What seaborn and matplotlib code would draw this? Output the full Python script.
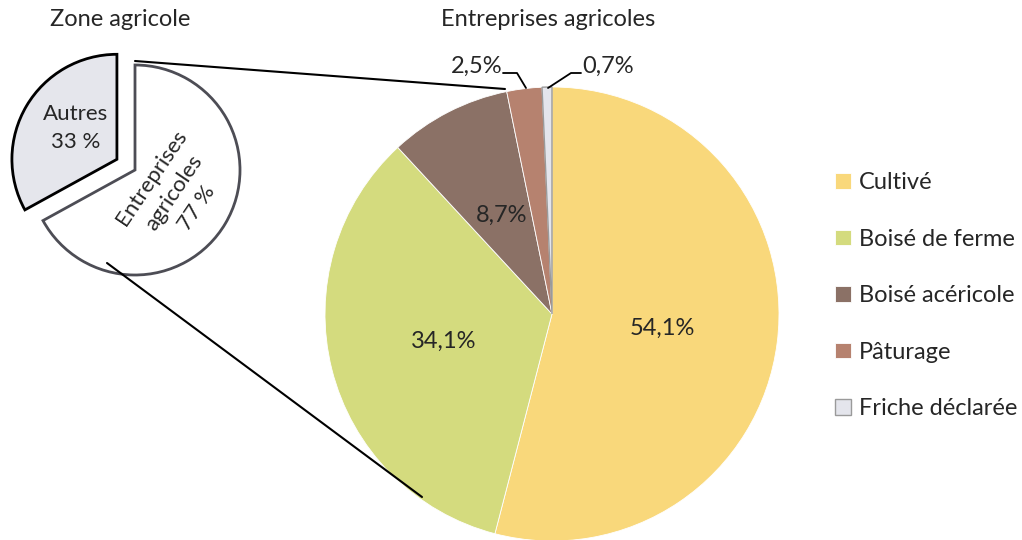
import matplotlib
matplotlib.use("Agg")
import numpy as np
import matplotlib.pyplot as plt
import seaborn as sns

# --------- DATA ---------
zone_labels = ["Autres\n33 %", "Entreprises\nagricoles\n77 %"]
zone_values = [33, 67]
zone_colors = ["#E5E6EC", "#FFFFFF"]

categories = ["Cultivé", "Boisé de ferme", "Boisé acéricole", "Pâturage", "Friche déclarée"]
shares = [54.1, 34.1, 8.7, 2.5, 0.7]
colors = ["#F9D87B", "#D4DB7E", "#8B7166", "#B6826F", "#E4E5EC"]

sns.set_theme(style="white")
plt.rcParams["font.family"] = ["Lato", "DejaVu Sans"]

W, H = 1022, 540
FS = 17
fig = plt.figure(figsize=(W / 100, H / 100), dpi=100)
ax = fig.add_axes([0, 0, 1, 1])


def px(x, y):
    # pixel position (from top-left) -> data coords
    return x, H - y


def pct(v):
    return f"{v:.1f}%".replace(".", ",")


# --------- SMALL PIE (zone agricole) ---------
small_c = px(135, 170)
small_r = 105
w_small, _ = ax.pie(zone_values, colors=zone_colors, startangle=90, counterclock=True,
                    explode=[21, 0], center=small_c, radius=small_r, frame=True)
w_small[0].set_edgecolor("black")
w_small[0].set_linewidth(2)
w_small[1].set_edgecolor("#4D4D55")
w_small[1].set_linewidth(2)

ax.text(*px(76, 128), zone_labels[0], ha="center", va="center", fontsize=FS - 1,
        linespacing=1.45)
ax.text(*px(174, 193), zone_labels[1], ha="center", va="center", fontsize=FS - 1,
        rotation=56, rotation_mode="anchor", linespacing=1.45)

# --------- BIG PIE (entreprises agricoles) ---------
big_c = px(552, 314)
big_r = 227
wedges, _ = ax.pie(shares, colors=colors, startangle=90, counterclock=False,
                   center=big_c, radius=big_r, frame=True,
                   wedgeprops=dict(edgecolor="white", linewidth=0.6))
wedges[4].set_edgecolor("#9A9A9A")
wedges[4].set_linewidth(1)

# value labels inside the big slices
for w, v in zip(wedges, shares):
    if v < 5:
        continue
    a = np.deg2rad((w.theta1 + w.theta2) / 2)
    ax.text(big_c[0] + 0.49 * big_r * np.cos(a), big_c[1] + 0.49 * big_r * np.sin(a),
            pct(v), ha="center", va="center", fontsize=FS)

# leader labels for the two thin slices
ax.plot([px(503, 73)[0], px(517, 73)[0], px(526, 88)[0]],
        [px(503, 73)[1], px(517, 73)[1], px(526, 88)[1]], color="black", lw=1.3)
ax.text(*px(502, 66), pct(shares[3]), ha="right", va="center", fontsize=FS)
ax.plot([px(581, 73)[0], px(571, 73)[0], px(548, 88)[0]],
        [px(581, 73)[1], px(571, 73)[1], px(548, 88)[1]], color="black", lw=1.3)
ax.text(*px(582, 66), pct(shares[4]), ha="left", va="center", fontsize=FS)

# connector lines between the two pies
ax.plot([px(135, 61)[0], px(505, 89)[0]], [px(135, 61)[1], px(505, 89)[1]],
        color="black", lw=1.5)
ax.plot([px(107, 263)[0], px(422, 497)[0]], [px(107, 263)[1], px(422, 497)[1]],
        color="black", lw=1.5)

# titles
ax.text(*px(120, 20), "Zone agricole", ha="center", va="center", fontsize=FS)
ax.text(*px(548, 20), "Entreprises agricoles", ha="center", va="center", fontsize=FS)

# legend
ax.legend(wedges, categories, loc="upper left", bbox_to_anchor=(826 / W, 1 - 163 / H),
          frameon=False, fontsize=FS, handlelength=0.65, handleheight=0.65,
          handletextpad=0.35, labelspacing=1.5, borderaxespad=0)

ax.set_xlim(0, W)
ax.set_ylim(0, H)
ax.set_aspect("equal")
ax.axis("off")

fig.savefig("out.png", dpi=100)
